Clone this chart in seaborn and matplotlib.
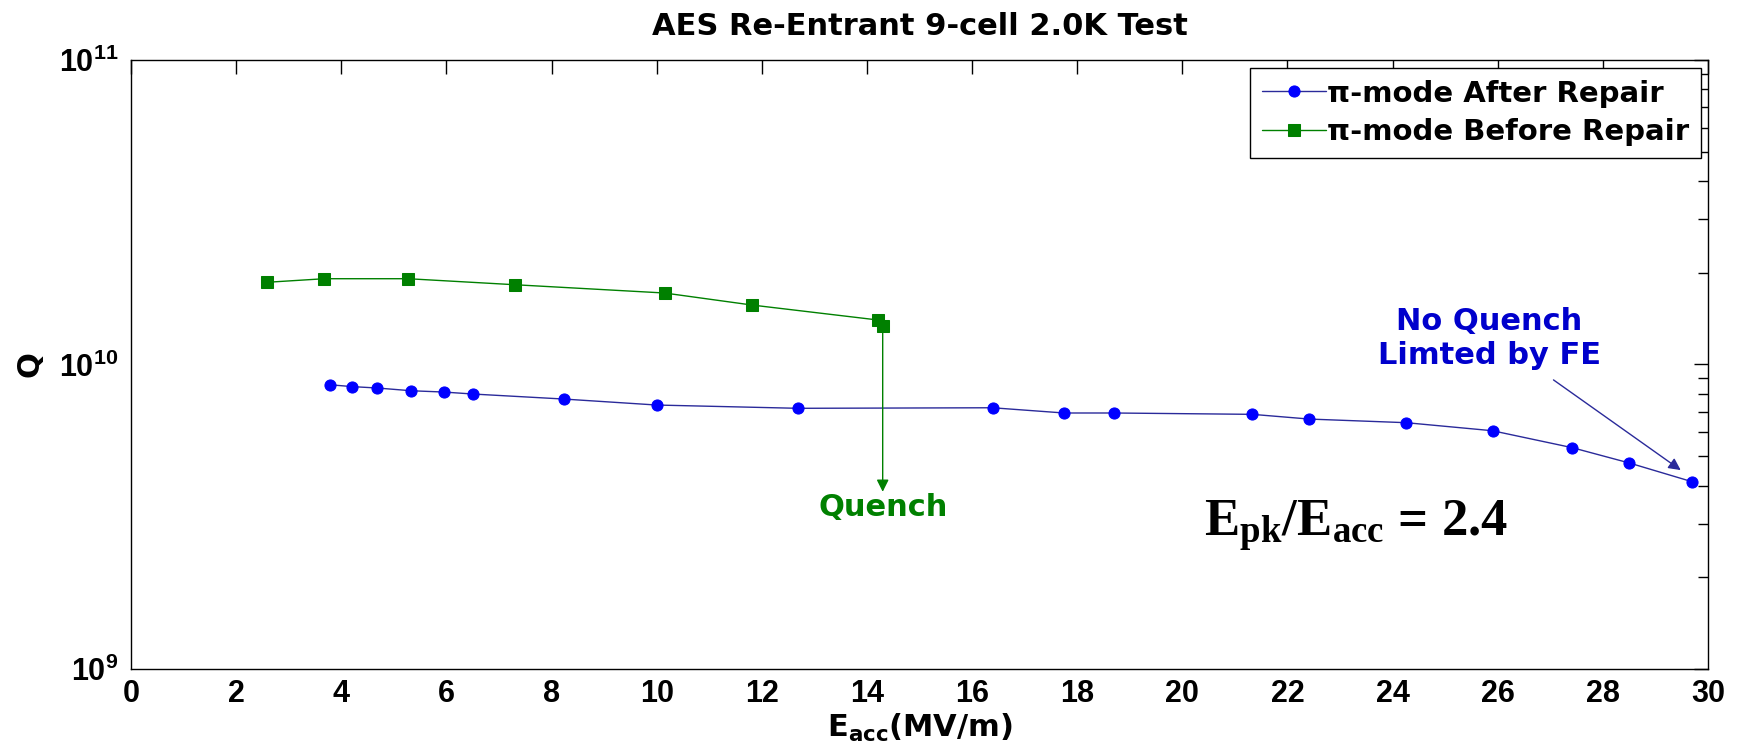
import matplotlib
matplotlib.use("Agg")
import matplotlib.pyplot as plt
import seaborn as sns
import pandas as pd
from matplotlib.ticker import FixedLocator, LogLocator, NullFormatter, LogFormatterSciNotation

# ---- data ----
after_x = [3.78, 4.21, 4.69, 5.33, 5.95, 6.50, 8.24, 10.0, 12.69, 16.39,
           17.75, 18.70, 21.33, 22.41, 24.26, 25.90, 27.42, 28.50, 29.70]
after_q = [8.58e9, 8.46e9, 8.37e9, 8.20e9, 8.12e9, 8.00e9, 7.70e9, 7.36e9, 7.18e9, 7.21e9,
           6.93e9, 6.93e9, 6.86e9, 6.62e9, 6.44e9, 6.06e9, 5.33e9, 4.75e9, 4.12e9]
before_x = [2.59, 3.68, 5.27, 7.30, 10.15, 11.81, 14.21, 14.30]
before_q = [1.862e10, 1.913e10, 1.913e10, 1.828e10, 1.717e10, 1.568e10, 1.40e10, 1.338e10]
series_labels = ["\u03c0-mode After Repair", "\u03c0-mode Before Repair"]
x_ticks = list(range(0, 31, 2))
y_ticks = [1e9, 1e10, 1e11]

sns.set_theme(style="white")
plt.rcParams["font.family"] = ["Liberation Sans", "DejaVu Sans"]
plt.rcParams["font.weight"] = "bold"
for key in ["text.color", "axes.labelcolor", "xtick.color", "ytick.color", "axes.edgecolor"]:
    plt.rcParams[key] = "black"

WIDE = ["DejaVu Sans"]

df_after = pd.DataFrame({"Eacc": after_x, "Q": after_q})
df_before = pd.DataFrame({"Eacc": before_x, "Q": before_q})

fig = plt.figure(figsize=(17.39, 7.47), dpi=100)
ax = fig.add_axes([0.0753, 0.1044, 0.9069, 0.8153])

sns.lineplot(data=df_after, x="Eacc", y="Q", ax=ax, sort=False, estimator=None,
             color="#2a2a9a", linewidth=1.0, marker="o", markersize=8,
             markerfacecolor="#0000ff", markeredgecolor="#0000ff",
             label=series_labels[0])
sns.lineplot(data=df_before, x="Eacc", y="Q", ax=ax, sort=False, estimator=None,
             color="#008000", linewidth=1.0, marker="s", markersize=8,
             markerfacecolor="#008000", markeredgecolor="#008000",
             label=series_labels[1])

ax.set_yscale("log")
ax.set_xlim(0, 30)
ax.set_ylim(1e9, 1e11)
ax.xaxis.set_major_locator(FixedLocator(x_ticks))
ax.yaxis.set_major_locator(FixedLocator(y_ticks))
ax.yaxis.set_major_formatter(LogFormatterSciNotation())
ax.yaxis.set_minor_locator(LogLocator(base=10, subs=[2, 3, 4, 5, 6, 7, 8, 9]))
ax.yaxis.set_minor_formatter(NullFormatter())

ax.tick_params(which="both", direction="in", top=True, right=True, color="black", width=1)
ax.tick_params(which="major", length=10, labelsize=22)
ax.tick_params(axis="x", which="major", pad=7)
ax.tick_params(axis="y", which="major", pad=9)
ax.tick_params(which="minor", length=7)
for lbl in ax.get_xticklabels() + ax.get_yticklabels():
    lbl.set_fontweight("bold")
for s in ax.spines.values():
    s.set_color("black")
    s.set_linewidth(1.0)

ax.set_title("AES Re-Entrant 9-cell 2.0K Test", fontsize=22, fontweight="bold",
             family=WIDE, pad=18)
ax.set_xlabel(r"$\mathdefault{E_{acc}}$(MV/m)", fontsize=22, fontweight="bold", family=WIDE)
ax.set_ylabel("Q", fontsize=22, fontweight="bold", family=WIDE)
ax.xaxis.set_label_coords(0.5, -0.07)
ax.yaxis.set_label_coords(-0.055, 0.5)

leg = ax.legend(loc="upper right", bbox_to_anchor=(0.9955, 0.9869),
                prop={"family": WIDE, "size": 21, "weight": "bold"},
                frameon=True, fancybox=False, edgecolor="black", framealpha=1,
                handlelength=2.2, handletextpad=0.05, labelspacing=0.35,
                borderpad=0.4, borderaxespad=0)
leg.get_frame().set_linewidth(1.0)

# Quench annotation
ax.annotate("", xy=(14.3, 3.82e9), xytext=(before_x[-1], before_q[-1]),
            arrowprops=dict(arrowstyle="-|>", color="#008000", lw=1.0,
                            mutation_scale=18, shrinkA=0, shrinkB=0))
ax.text(14.31, 3.18e9, "Quench", color="#008000", ha="center", va="baseline",
        fontsize=22, fontweight="bold", family=WIDE)

# No quench annotation
ax.text(25.84, 1.22e10, "No Quench\nLimted by FE", color="#0000cc", ha="center",
        va="center", fontsize=22, fontweight="bold", family=WIDE, linespacing=1.2)
ax.annotate("", xy=(29.48, 4.5e9), xytext=(27.06, 8.9e9),
            arrowprops=dict(arrowstyle="-|>", color="#2a2a9a", lw=1.0,
                            mutation_scale=18, shrinkA=0, shrinkB=0))

ax.text(23.3, 2.96e9, r"$\mathdefault{E_{pk}/E_{acc}}$ = 2.4", ha="center", va="center",
        fontsize=38, fontweight="bold", family=["Liberation Serif", "DejaVu Serif"],
        color="black")

fig.savefig("out.png", dpi=100)
